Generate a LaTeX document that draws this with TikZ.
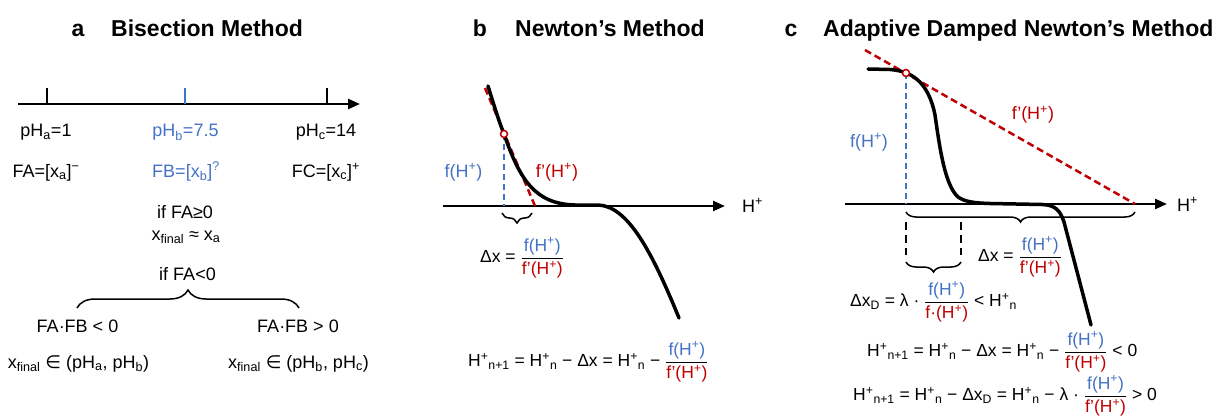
\documentclass[tikz,border=0pt]{standalone}
\usepackage{amsmath}
\usepackage{fontspec}
\setmainfont{Liberation Sans}
\newfontfamily\elemfont{DejaVu Sans}
\usepackage{xcolor}
\usepackage{tikz}
\usetikzlibrary{arrows.meta,positioning,decorations.pathreplacing}
\definecolor{fblue}{RGB}{68,114,196}
\definecolor{fred}{RGB}{192,0,0}
\newcommand{\Hp}{H\textsuperscript{+}}
\newcommand{\fH}{\textcolor{fblue}{f(\Hp)}}
\newcommand{\dfH}{\textcolor{fred}{f’(\Hp)}}
\newcommand{\ratio}{$\dfrac{\text{\fH}}{\text{\dfH}}$}

\begin{document}
\begin{tikzpicture}[
x=1pt,y=-1pt,
every node/.style={font=\fontsize{18}{22}\selectfont,inner sep=0pt},
eqn/.style={anchor=west,font=\fontsize{17.5}{21}\selectfont},
ttl/.style={font=\fontsize{23}{27}\selectfont\bfseries,anchor=base},
axis/.style={line width=2.5pt,-{Triangle[length=12pt,width=10pt]}},
curve/.style={line width=3.5pt,line cap=round},
tickmark/.style={line width=2pt},
tang/.style={fred,line width=2.5pt,dash pattern=on 7pt off 4pt},
drop/.style={fblue,line width=2.5pt,dash pattern=on 6pt off 4pt},
guide/.style={line width=2.8pt,dash pattern=on 8pt off 5pt},
brc/.style={decorate,decoration={brace,amplitude=#1},line width=1.5pt},
touch/.style={circle,draw=fred,fill=white,line width=1.5pt,minimum size=7pt,inner sep=0pt}
]
\useasboundingbox (0,0) rectangle (1218,417);

% a: bisection
\node[ttl] (la) at (78,37) {a};
\node[ttl,anchor=base west] (ta) at (111,37) {Bisection Method};
\coordinate (a0) at (18,104);
\coordinate (a1) at (360,104);
\draw[axis] (a0) -- (a1);
\coordinate (ka) at (47,104);
\coordinate (kb) at (185,104);
\coordinate (kc) at (327,104);
\draw[tickmark] (ka) -- ++(0,-16);
\draw[tickmark,fblue] (kb) -- ++(0,-16);
\draw[tickmark] (kc) -- ++(0,-16);
\node[anchor=base] (pha) at (46,137) {pH\textsubscript{a}=1};
\node[anchor=base,text=fblue] (phb) at (185.5,137) {pH\textsubscript{b}=7.5};
\node[anchor=base] (phc) at (326,137) {pH\textsubscript{c}=14};
\node[anchor=base] (fa) at (46,177) {FA=[x\textsubscript{a}]\textsuperscript{−}};
\node[anchor=base,text=fblue] (fb) at (186,177) {FB=[x\textsubscript{b}]\textsuperscript{?}};
\node[anchor=base] (fc) at (326,177) {FC=[x\textsubscript{c}]\textsuperscript{+}};
\node[anchor=base] (ifge) at (185,218) {if FA≥0};
\node[anchor=base] (xfa) at (186,240) {x\textsubscript{final} ≈ x\textsubscript{a}};
\node[anchor=base] (iflt) at (187.5,280) {if FA<0};
\coordinate (bl) at (77,308);
\coordinate (br) at (299,308);
\draw[brc=18pt] (bl) -- (br);
\node[anchor=base] (prn) at (77.5,332) {FA·FB < 0};
\node[anchor=base] (prp) at (298,332) {FA·FB > 0};
\node[anchor=base] (ra) at (78.5,368) {x\textsubscript{final} {\elemfont ∈} (pH\textsubscript{a}, pH\textsubscript{b})};
\node[anchor=base] (rb) at (298.5,368) {x\textsubscript{final} {\elemfont ∈} (pH\textsubscript{b}, pH\textsubscript{c})};

% b: newton
\node[ttl] (lb) at (480,37) {b};
\node[ttl,anchor=base west] (tb) at (515,37) {Newton’s Method};
\coordinate (b0) at (443,206);
\coordinate (b1) at (725,206);
\draw[axis] (b0) -- (b1);
\node[anchor=base west] (hb) at (742,212) {\Hp};
\coordinate (pb) at (504,134);
\coordinate (sb0) at (485,88);
\coordinate (sb1) at (535,206);
\draw[drop] (pb) -- (pb |- b0);
\draw[tang] (sb0) -- (sb1);
\draw[curve] (488,86) .. controls (496,112) and (500,124) .. (pb)
  .. controls (520,180) and (535,204) .. (575,205) -- (598,205)
  .. controls (628,206) and (652,252) .. (679,318);
\node[touch] (pbc) at (pb) {};
\node[anchor=base,text=fblue] (fhb) at (463.5,177) {f(\Hp)};
\node[anchor=base,text=fred] (dfhb) at (557,177) {f’(\Hp)};
\coordinate (db0) at (502,213);
\coordinate (db1) at (532,213);
\draw[brc=10pt] (db1) -- (db0);
\node[eqn] (dxb) at (480,258) {Δx = \ratio};
\node[eqn] (nb) at (468,362) {\Hp\textsubscript{n+1} = \Hp\textsubscript{n} − Δx = \Hp\textsubscript{n} − \ratio};

% c: adaptive damped newton
\node[ttl] (lc) at (791,37) {c};
\node[ttl,anchor=base west] (tc) at (823,37) {Adaptive Damped Newton’s Method};
\coordinate (c0) at (845,204);
\coordinate (c1) at (1167,204);
\draw[axis] (c0) -- (c1);
\node[anchor=base west] (hc) at (1177,211) {\Hp};
\coordinate (pc) at (906,73);
\coordinate (sc0) at (865,50);
\coordinate (sc1) at (1135,204);
\draw[drop] (pc) -- (pc |- c0);
\draw[tang] (sc0) -- (sc1);
\draw[curve] (868,69) -- (890,69.5) .. controls (910,71) and (928,80) .. (935,115)
  .. controls (940,150) and (945,185) .. (958,197)
  .. controls (965,202) and (975,203) .. (990,203.5) -- (1042,204.5)
  .. controls (1055,205) and (1060,210) .. (1064,222) -- (1091,325);
\node[touch] (pcc) at (pc) {};
\node[anchor=base,text=fblue] (fhc) at (869,147) {f(\Hp)};
\node[anchor=base,text=fred] (dfhc) at (1033,120) {f’(\Hp)};
\coordinate (gc0) at (906,222);
\coordinate (gc1) at (961,222);
\draw[brc=10pt] (sc1 |- 0,212) -- (906,212);
\draw[guide] (gc0) -- ++(0,33);
\draw[guide] (gc1) -- ++(0,33);
\draw[brc=10pt] (961,262) -- (906,262);
\node[eqn] (dxc) at (978,257) {Δx = \ratio};
\node[eqn] (dxd) at (850,302) {Δx\textsubscript{D} = λ · $\dfrac{\text{\fH}}{\text{\textcolor{fred}{f·(\Hp)}}}$ < \Hp\textsubscript{n}};
\node[eqn] (nc) at (867,352) {\Hp\textsubscript{n+1} = \Hp\textsubscript{n} − Δx = \Hp\textsubscript{n} − \ratio{} < 0};
\node[eqn] (nd) at (853,396) {\Hp\textsubscript{n+1} = \Hp\textsubscript{n} − Δx\textsubscript{D} = \Hp\textsubscript{n} − λ · \ratio{} > 0};
\end{tikzpicture}
\end{document}
